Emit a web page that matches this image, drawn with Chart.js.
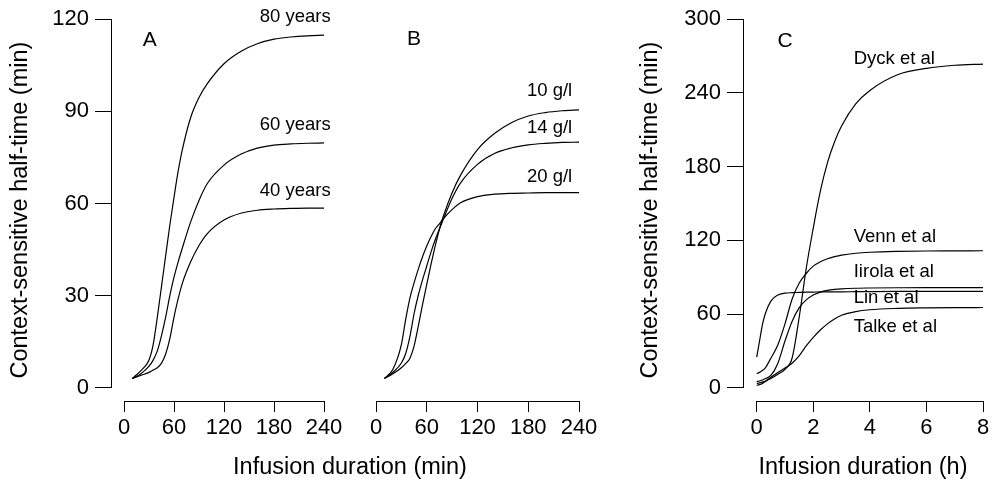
<!DOCTYPE html>
<html>
<head>
<meta charset="utf-8">
<script src="https://cdn.jsdelivr.net/npm/chart.js@4.4.1/dist/chart.umd.min.js"></script>
<style>
  body { margin: 0; background: #fff; }
  #wrap { position: relative; width: 995px; height: 483px; overflow: hidden; background: #fff; }
  canvas { position: absolute; top: 0; }
  #titleAB {
    position: absolute; left: 200px; width: 300px; top: 452px;
    text-align: center; font: 23.5px/28px 'Liberation Sans', Arial, sans-serif; color: #000;
  }
</style>
</head>
<body>
<div id="wrap">
  <canvas id="panelA" width="350" height="483" style="left:0px"></canvas>
  <canvas id="panelB" width="270" height="483" style="left:340px"></canvas>
  <canvas id="panelC" width="365" height="483" style="left:630px"></canvas>
  <div id="titleAB">Infusion duration (min)</div>
</div>
<script>
const FONT = "'Liberation Sans', Arial, Helvetica, sans-serif";

// Panel A: age (minutes)
const timeA = [10, 20, 30, 35, 40, 45, 50, 55, 60, 65, 70, 80, 90, 100, 120, 140, 160, 180, 200, 220, 240];
const age80 = [3, 5.5, 9, 14, 23, 33, 43, 53, 62, 70.5, 77.5, 88, 94.5, 99, 105.5, 109.5, 112, 113.5, 114.2, 114.6, 114.8];
const age60 = [3, 4.5, 7, 9, 12, 17, 23, 30, 36, 41, 45.5, 54, 61, 66.5, 72.5, 76, 78, 79, 79.4, 79.6, 79.7];
const age40 = [3, 4, 5, 5.8, 6.5, 8, 11, 16, 23, 29, 34, 41, 46.3, 50.2, 54.6, 56.8, 57.8, 58.2, 58.4, 58.5, 58.5];

// Panel B: albumin (minutes)
const timeB = [10, 20, 30, 35, 40, 45, 50, 55, 60, 65, 70, 75, 80, 90, 100, 120, 140, 160, 180, 200, 220, 240];
const alb10 = [3, 4.5, 6.5, 7.8, 9.5, 13.5, 20, 27, 33.5, 40, 46, 51.5, 56, 63.3, 69, 77.3, 82.5, 86, 88.2, 89.3, 89.9, 90.2];
const alb14 = [3, 5, 8, 11, 16.5, 24, 30, 35, 39.5, 44, 48, 51.5, 55, 61.5, 66.5, 72.5, 76, 77.8, 78.8, 79.3, 79.6, 79.7];
const alb20 = [3, 6, 14, 22, 29, 34, 38.5, 42.5, 46, 49, 51.5, 53.2, 55, 57.8, 60, 62, 62.8, 63.1, 63.2, 63.3, 63.3, 63.3];

// Panel C: published models (hours)
const timeC = [0, 0.1, 0.2, 0.3, 0.5, 0.75, 1, 1.25, 1.5, 1.75, 2, 2.25, 2.5, 2.75, 3, 3.5, 4, 5, 6, 7, 8];
const dyck   = [3.5, 4, 4.6, 5.3, 7.5, 11, 15, 24, 57, 97, 130, 160, 183, 200, 213, 231, 242, 255, 260, 262.5, 263.5];
const venn   = [11.5, 12.5, 14, 16, 24, 35, 52, 72, 85, 93, 99, 102.5, 105, 106.7, 108, 109.5, 110.3, 111, 111.3, 111.4, 111.5];
const iirola = [5, 5.5, 6.3, 7.3, 10, 20, 38, 54, 65, 71.5, 75.5, 77.8, 79.2, 80, 80.5, 81, 81.2, 81.4, 81.5, 81.5, 81.5];
const lin    = [25, 38, 51, 60, 70.5, 75.5, 77, 77.4, 77.6, 77.8, 77.9, 78, 78, 78.1, 78.1, 78.2, 78.3, 78.4, 78.4, 78.5, 78.5];
const talke  = [2, 2.5, 3.5, 5, 8.5, 12.5, 16, 20, 26, 34, 41, 47, 52, 56, 59, 62, 63.5, 64.6, 65, 65.2, 65.3];

// tick labels
const ticksMin = [0, 60, 120, 180, 240];
const ticksHour = [0, 2, 4, 6, 8];
const ticksYA = [0, 30, 60, 90, 120];
const ticksYC = [0, 60, 120, 180, 240, 300];

Chart.defaults.font.family = FONT;
Chart.defaults.color = '#000';

// axis lines (R style, tick to tick) and the text labels inside panels
const panelText = {
  id: 'panelText',
  afterDraw(chart, args, opts) {
    const { ctx, chartArea, scales } = chart;
    const xs = scales.x, ys = scales.y;
    const al = v => Math.round(v - 0.5) + 0.5;
    ctx.save();
    ctx.strokeStyle = '#000';
    ctx.lineWidth = 1;
    ctx.lineCap = 'square';
    ctx.beginPath();
    const xt = xs.ticks;
    ctx.moveTo(al(xs.getPixelForValue(xt[0].value)), al(chartArea.bottom));
    ctx.lineTo(al(xs.getPixelForValue(xt[xt.length - 1].value)), al(chartArea.bottom));
    if (opts.yLine) {
      const yt = ys.ticks;
      ctx.moveTo(al(chartArea.left), al(ys.getPixelForValue(yt[0].value)));
      ctx.lineTo(al(chartArea.left), al(ys.getPixelForValue(yt[yt.length - 1].value)));
    }
    ctx.stroke();

    ctx.fillStyle = '#000';
    ctx.textBaseline = 'middle';
    (opts.labels || []).forEach(l => {
      ctx.font = (l.size || 18.5) + 'px ' + FONT;
      ctx.textAlign = l.align;
      ctx.fillText(l.text, xs.getPixelForValue(l.x), ys.getPixelForValue(l.y));
    });
    ctx.restore();
  }
};

const curve = (xs, ys) => ({
  data: xs.map((x, i) => ({ x: x, y: ys[i] })),
  borderColor: '#000',
  borderWidth: 1.2,
  pointRadius: 0,
  fill: false,
  cubicInterpolationMode: 'monotone'
});

function panel(id, o) {
  return new Chart(document.getElementById(id), {
    type: 'line',
    data: { datasets: o.series.map(s => curve(o.xs, s)) },
    options: {
      responsive: false,
      animation: false,
      layout: { padding: o.pad },
      plugins: {
        legend: { display: false },
        tooltip: { enabled: false },
        panelText: { labels: o.labels, yLine: o.yTicks != null }
      },
      scales: {
        x: {
          type: 'linear',
          min: o.xMin,
          max: o.xTicks[o.xTicks.length - 1],
          afterBuildTicks: s => { s.ticks = o.xTicks.map(v => ({ value: v })); },
          afterFit: s => { s.height = 82; },
          border: { display: false },
          grid: { drawOnChartArea: false, tickLength: 11, color: '#000', lineWidth: 1 },
          ticks: { color: '#000', font: { size: 22 }, padding: 3, maxRotation: 0, autoSkip: false },
          title: o.xTitle ? {
            display: true, text: o.xTitle, color: '#000',
            font: { size: 23.5 }, padding: { top: 0, bottom: 1 }
          } : { display: false }
        },
        y: {
          type: 'linear',
          display: o.yTicks != null,
          min: o.yMin,
          max: o.yMax,
          afterBuildTicks: s => { if (o.yTicks) s.ticks = o.yTicks.map(v => ({ value: v })); },
          afterFit: s => { s.width = o.yWidth; },
          border: { display: false },
          grid: { drawOnChartArea: false, tickLength: 16, color: '#000', lineWidth: 1 },
          ticks: { color: '#000', font: { size: 22 }, padding: 6, autoSkip: false },
          title: {
            display: o.yTicks != null, text: 'Context-sensitive half-time (min)', color: '#000',
            font: { size: 23.5 }, padding: { top: 6, bottom: 0 }
          }
        }
      }
    },
    plugins: [panelText]
  });
}

panel('panelA', {
  xs: timeA, series: [age80, age60, age40],
  xMin: -15.6, xTicks: ticksMin,
  yMin: -4.32, yMax: 120, yTicks: ticksYA, yWidth: 111,
  pad: { left: 0, top: 18, right: 26, bottom: 0 },
  labels: [
    { text: 'A', x: 31, y: 113, align: 'center', size: 21 },
    { text: '80 years', x: 248, y: 120.8, align: 'right' },
    { text: '60 years', x: 248, y: 85.7, align: 'right' },
    { text: '40 years', x: 248, y: 64.2, align: 'right' }
  ]
});

panel('panelB', {
  xs: timeB, series: [alb10, alb14, alb20],
  xMin: 0, xTicks: ticksMin,
  yMin: -4.32, yMax: 120, yTicks: null, yWidth: 0,
  pad: { left: 36, top: 18, right: 31, bottom: 0 },
  labels: [
    { text: 'B', x: 45, y: 113, align: 'center', size: 21 },
    { text: '10 g/l', x: 232, y: 96.4, align: 'right' },
    { text: '14 g/l', x: 232, y: 84.4, align: 'right' },
    { text: '20 g/l', x: 232, y: 68.5, align: 'right' }
  ]
});

panel('panelC', {
  xs: timeC, series: [dyck, venn, iirola, lin, talke],
  xMin: -0.484, xTicks: ticksHour, xTitle: 'Infusion duration (h)',
  yMin: -10.79, yMax: 300, yTicks: ticksYC, yWidth: 113,
  pad: { left: 0, top: 18, right: 12, bottom: 0 },
  labels: [
    { text: 'C', x: 1.0, y: 282.4, align: 'center', size: 21 },
    { text: 'Dyck et al', x: 3.43, y: 267.8, align: 'left' },
    { text: 'Venn et al', x: 3.43, y: 122.4, align: 'left' },
    { text: 'Iirola et al', x: 3.43, y: 94, align: 'left' },
    { text: 'Lin et al', x: 3.43, y: 72.9, align: 'left' },
    { text: 'Talke et al', x: 3.43, y: 49.3, align: 'left' }
  ]
});
</script>
</body>
</html>
